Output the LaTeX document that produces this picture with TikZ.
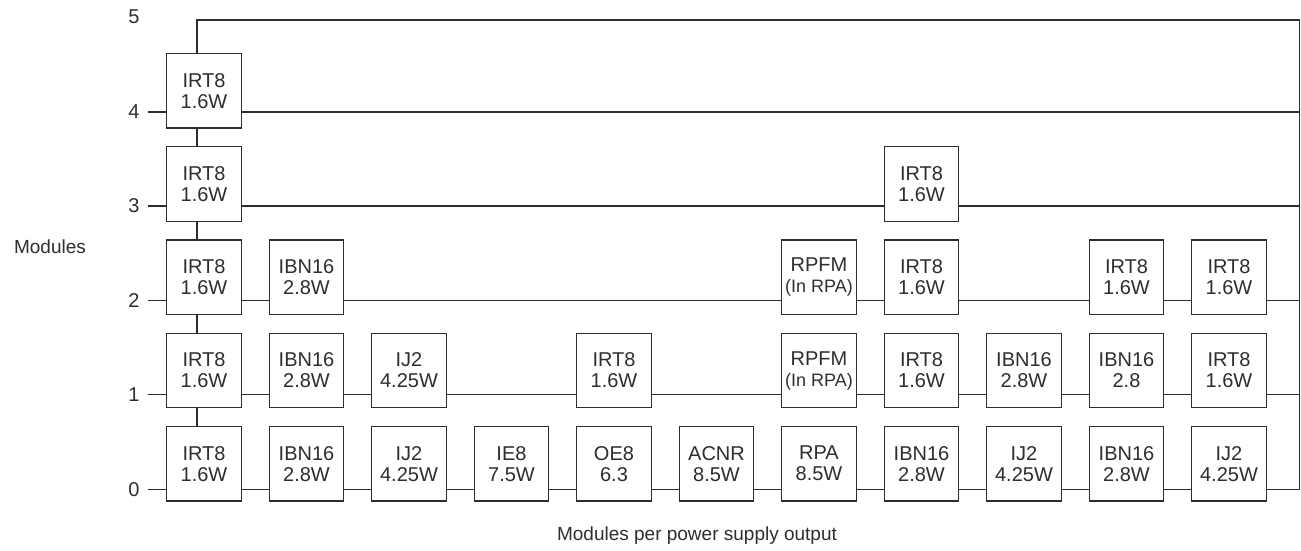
\documentclass[tikz,border=0pt]{standalone}
\usepackage{fontspec}
\setmainfont{Liberation Sans}
\definecolor{ink}{HTML}{2E2E2E}
\begin{document}
\begin{tikzpicture}[x=1pt,y=-1pt,
  box/.style={draw=ink, line width=1.2pt, fill=white, minimum width=74.7pt, minimum height=74.7pt,
    inner sep=0pt, align=center, text=ink, font=\fontsize{20}{21}\selectfont},
  wire/.style={draw=ink, line width=1.15pt},
  ticklab/.style={font=\fontsize{20}{24}\selectfont, inner sep=0pt, text=ink},
  axlab/.style={font=\fontsize{19}{22}\selectfont, inner sep=0pt, text=ink}]
\useasboundingbox[fill=white] (0,0) rectangle (1301,550);
% row line levels
\coordinate (L0) at (0,489.3);
\coordinate (L1) at (0,394.7);
\coordinate (L2) at (0,300.7);
\coordinate (L3) at (0,206);
\coordinate (L4) at (0,112);
\coordinate (L5) at (0,20);
\coordinate (R) at (1299.5,0);
\coordinate (V) at (197,0);
% tick labels
\node[ticklab] (n0) at (134,489.3) {0};
\node[ticklab] (n1) at (134,394.7) {1};
\node[ticklab] (n2) at (134,300.7) {2};
\node[ticklab] (n3) at (134,206) {3};
\node[ticklab] (n4) at (134,112) {4};
\node[ticklab] (n5) at (134,17) {5};
\coordinate (T0) at (148.3,489.3);
\coordinate (T1) at (148.3,394.7);
\coordinate (T2) at (148.3,300.7);
\coordinate (T3) at (148.3,206);
\coordinate (T4) at (148.3,112);
% axis titles
\node[axlab] (ylab) at (50,246.5) {Modules};
\node[axlab] (xlab) at (697,536) {Modules per power supply output};
% row 0
\node[box] (b0-1) at (204,463.7) {IRT8\\1.6W};
\node[box] (b0-2) at (306.5,463.7) {IBN16\\2.8W};
\node[box] (b0-3) at (409,463.7) {IJ2\\4.25W};
\node[box] (b0-4) at (511.5,463.7) {IE8\\7.5W};
\node[box] (b0-5) at (614,463.7) {OE8\\6.3};
\node[box] (b0-6) at (716.5,463.7) {ACNR\\8.5W};
\node[box] (b0-7) at (819,463.7) {RPA\\8.5W};
\node[box] (b0-8) at (921.5,463.7) {IBN16\\2.8W};
\node[box] (b0-9) at (1024,463.7) {IJ2\\4.25W};
\node[box] (b0-10) at (1126.5,463.7) {IBN16\\2.8W};
\node[box] (b0-11) at (1229,463.7) {IJ2\\4.25W};
% row 1
\node[box] (b1-1) at (204,370.5) {IRT8\\1.6W};
\node[box] (b1-2) at (306.5,370.5) {IBN16\\2.8W};
\node[box] (b1-3) at (409,370.5) {IJ2\\4.25W};
\node[box] (b1-5) at (614,370.5) {IRT8\\1.6W};
\node[box] (b1-7) at (819,370.5) {RPFM\\{\fontsize{18}{21}\selectfont (In RPA)}};
\node[box] (b1-8) at (921.5,370.5) {IRT8\\1.6W};
\node[box] (b1-9) at (1024,370.5) {IBN16\\2.8W};
\node[box] (b1-10) at (1126.5,370.5) {IBN16\\2.8};
\node[box] (b1-11) at (1229,370.5) {IRT8\\1.6W};
% row 2
\node[box] (b2-1) at (204,277.3) {IRT8\\1.6W};
\node[box] (b2-2) at (306.5,277.3) {IBN16\\2.8W};
\node[box] (b2-7) at (819,277.3) {RPFM\\{\fontsize{18}{21}\selectfont (In RPA)}};
\node[box] (b2-8) at (921.5,277.3) {IRT8\\1.6W};
\node[box] (b2-10) at (1126.5,277.3) {IRT8\\1.6W};
\node[box] (b2-11) at (1229,277.3) {IRT8\\1.6W};
% row 3
\node[box] (b3-1) at (204,183.8) {IRT8\\1.6W};
\node[box] (b3-8) at (921.5,183.8) {IRT8\\1.6W};
% row 4
\node[box] (b4-1) at (204,90.7) {IRT8\\1.6W};
% ticks
\foreach \r in {0,1,2,3,4} \draw[wire] (T\r) -- (b\r-1.west |- L\r);
% horizontal wires
\foreach \a/\b in {1/2,2/3,3/4,4/5,5/6,6/7,7/8,8/9,9/10,10/11}
  \draw[wire] (b0-\a.east |- L0) -- (b0-\b.west |- L0);
\foreach \a/\b in {1/2,2/3,3/5,5/7,7/8,8/9,9/10,10/11}
  \draw[wire] (b1-\a.east |- L1) -- (b1-\b.west |- L1);
\foreach \a/\b in {1/2,2/7,7/8,8/10,10/11}
  \draw[wire] (b2-\a.east |- L2) -- (b2-\b.west |- L2);
\draw[wire] (b3-1.east |- L3) -- (b3-8.west |- L3);
% to the right bus
\draw[wire] (b0-11.east |- L0) -- (R |- L0);
\draw[wire] (b1-11.east |- L1) -- (R |- L1);
\draw[wire] (b2-11.east |- L2) -- (R |- L2);
\draw[wire] (b3-8.east |- L3) -- (R |- L3);
\draw[wire] (b4-1.east |- L4) -- (R |- L4);
% top loop and right bus
\draw[wire] (b4-1.north -| V) -- (V |- L5) -- (R |- L5) -- (R |- L0);
% column 1 verticals
\foreach \r/\s in {0/1,1/2,2/3,3/4}
  \draw[wire] (b\r-1.north -| V) -- (b\s-1.south -| V);
\end{tikzpicture}
\end{document}
